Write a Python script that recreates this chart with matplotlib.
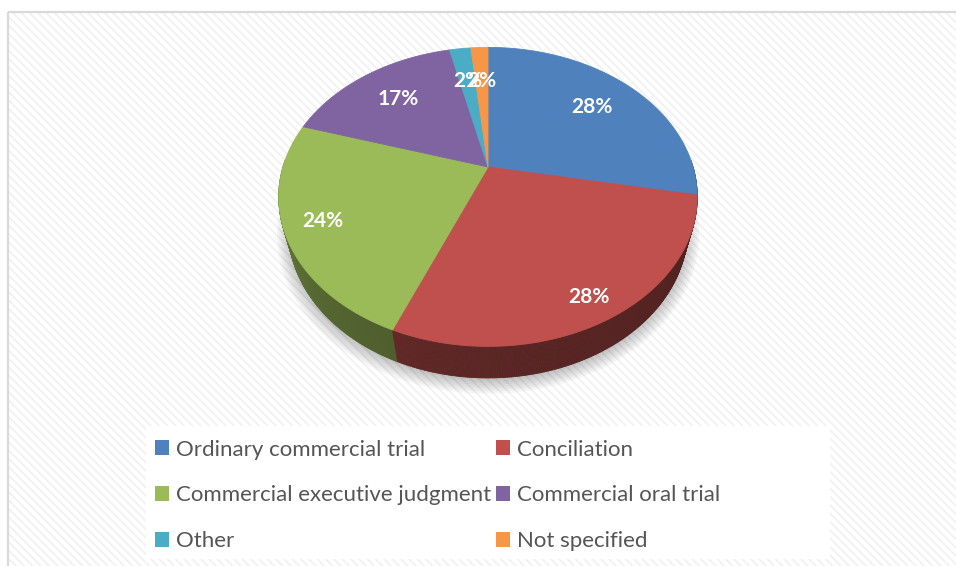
import numpy as np
import matplotlib
matplotlib.use("Agg")
import matplotlib.pyplot as plt
import matplotlib.transforms as mtransforms
from matplotlib.path import Path
from matplotlib.patches import Rectangle, Circle, Patch
from matplotlib.collections import PolyCollection
from matplotlib.colors import to_rgb

# ---------------- data ----------------
categories = ["Ordinary commercial trial", "Conciliation",
              "Commercial executive judgment", "Commercial oral trial",
              "Other", "Not specified"]
shares = [28.0, 28.2, 23.6, 16.6, 2.0, 1.6]
colors = ["#4F81BD", "#C0504D", "#9BBB59", "#8064A2", "#4BACC6", "#F79646"]

# ---------------- layout / projection ----------------
W, H = 956, 566
CX, CY = 488.0, 167.0        # apex of pie in pixels
F, D = 732.0, 3.57           # focal length, camera distance
S, C = 0.70, 0.714           # sin / cos of tilt
DEPTH = 0.24                 # pie thickness


def project(x, y, z=0.0):
    x = np.asarray(x, float); y = np.asarray(y, float)
    Y = y * S - z * C
    Z = D + y * C + z * S
    return CX + F * x / Z, CY - F * Y / Z


class Persp(mtransforms.Transform):
    input_dims = 2
    output_dims = 2
    is_separable = False
    has_inverse = False

    def __init__(self, z=0.0):
        super().__init__()
        self.z = z

    def transform_non_affine(self, values):
        v = np.asarray(values, float).reshape(-1, 2)
        px, py = project(v[:, 0], v[:, 1], self.z)
        return np.column_stack([px, py])

    def transform_path_non_affine(self, path):
        k = 1000.0
        polys = path.to_polygons(transform=mtransforms.Affine2D().scale(k),
                                 closed_only=True)
        verts, codes = [], []
        for p in polys:
            p = np.asarray(p) / k
            c = np.full(len(p), Path.LINETO, dtype=np.uint8)
            c[0] = Path.MOVETO
            verts.append(p); codes.append(c)
        v = np.concatenate(verts)
        return Path(self.transform_non_affine(v), np.concatenate(codes))


fig = plt.figure(figsize=(W / 100, H / 100), dpi=100)
fig.patch.set_facecolor("white")
ax = fig.add_axes([0, 0, 1, 1])

# ---------------- pie (top faces) ----------------
wedges, _ = ax.pie(shares, colors=colors, startangle=90, counterclock=False,
                   radius=1.0, wedgeprops=dict(linewidth=0.6))
ax.set_aspect("auto")
ax.set_xlim(0, W)
ax.set_ylim(H, 0)
ax.axis("off")

# background with diagonal texture
plt.rcParams["hatch.linewidth"] = 1.3
bg = Rectangle((8, 12), W, H, facecolor="white", edgecolor="#f1f1f1",
               hatch="\\\\\\\\", linewidth=0, zorder=0)
ax.add_patch(bg)
ax.add_patch(Rectangle((8, 12), W, H, fill=False, edgecolor="#d9d9d9",
                       linewidth=1.6, zorder=1))
# legend area
ax.add_patch(Rectangle((146, 426), 684, 133, facecolor="white",
                       edgecolor="none", zorder=1))

for w in wedges:
    w.set_edgecolor(w.get_facecolor())
    w.set_transform(Persp(0.0) + ax.transData)
    w.set_zorder(6)

# soft shadow
for rr in np.linspace(1.0, 1.06, 7):
    sh = Circle((0, 0), rr, facecolor="#000000", alpha=0.035,
                edgecolor="none", zorder=2)
    sh.set_transform(Persp(DEPTH + 0.02) + ax.transData)
    ax.add_patch(sh)

# side walls
quads, qcols, qdepth = [], [], []
for w in wedges:
    t1, t2 = w.theta1, w.theta2
    base = np.array(to_rgb(w.get_facecolor()))
    n = max(2, int(np.ceil((t2 - t1) / 0.5)))
    ts = np.linspace(t1, t2, n + 1)
    for a, b in zip(ts[:-1], ts[1:]):
        m = np.deg2rad((a + b) / 2)
        if np.sin(m) > 0.05:
            continue
        ra, rb = np.deg2rad(a), np.deg2rad(b)
        xs = np.array([np.cos(ra), np.cos(rb), np.cos(rb), np.cos(ra)])
        ys = np.array([np.sin(ra), np.sin(rb), np.sin(rb), np.sin(ra)])
        zs = np.array([0, 0, DEPTH, DEPTH])
        px, py = project(xs, ys, zs)
        tdeg = np.rad2deg(m) % 360
        k = 0.41 + 0.29 * np.exp(-max(tdeg - 185, 0) / 55)
        quads.append(np.column_stack([px, py]))
        qcols.append(tuple(np.clip(base * k, 0, 1)))
        qdepth.append(D + np.sin(m) * C)
order = np.argsort(qdepth)[::-1]
pc = PolyCollection([quads[i] for i in order],
                    facecolors=[qcols[i] for i in order],
                    edgecolors=[qcols[i] for i in order],
                    linewidths=0.6, zorder=4)
ax.add_collection(pc)

# percentage labels
for w, v in zip(wedges, shares):
    mid = np.deg2rad((w.theta1 + w.theta2) / 2)
    r = 0.785 - 0.1 * np.sin(mid)
    px, py = project(r * np.cos(mid), r * np.sin(mid), 0.0)
    ax.text(float(px), float(py), f"{v:.0f}%", ha="center", va="center",
            color="white", fontweight="bold", family="Lato", fontsize=15,
            zorder=10)

# legend (two columns, row-major order as in original)
handles = [Patch(facecolor=c, edgecolor="none") for c in colors]
common = dict(frameon=False, loc="upper left", borderpad=0, borderaxespad=0,
              handlelength=0.63, handleheight=0.63, handletextpad=0.3,
              labelspacing=1.16, prop=dict(family="Lato", size=16),
              labelcolor="#555555")
leg1 = fig.legend([handles[i] for i in (0, 2, 4)],
                  [categories[i] for i in (0, 2, 4)],
                  bbox_to_anchor=(155 / W, 1 - 439.5 / H), **common)
leg2 = fig.legend([handles[i] for i in (1, 3, 5)],
                  [categories[i] for i in (1, 3, 5)],
                  bbox_to_anchor=(496 / W, 1 - 439.5 / H), **common)

fig.savefig("out.png", dpi=100)
